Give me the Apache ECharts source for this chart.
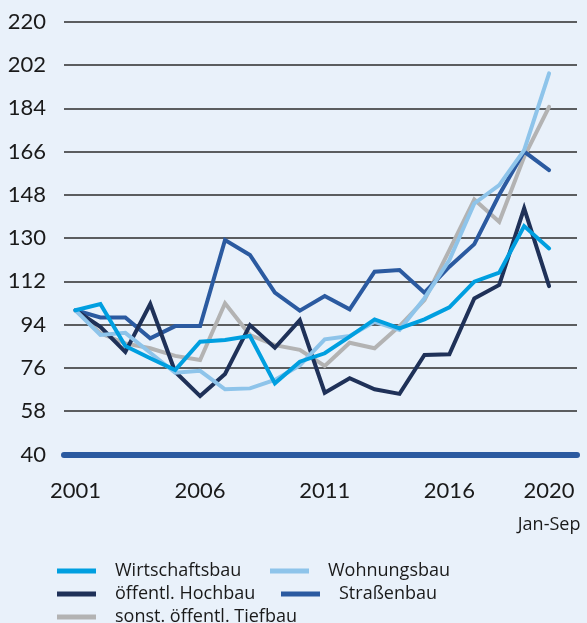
<!DOCTYPE html>
<html>
<head>
<meta charset="utf-8">
<script src="https://cdn.jsdelivr.net/npm/echarts@6/dist/echarts.min.js"></script>
<style>
  html, body { margin: 0; padding: 0; background: #e9f1fa; }
  .chart { width: 587px; height: 623px; }
</style>
</head>
<body>
<div class="chart"></div>
<script>
// Daten (Index 2001 = 100)
var years = [2001, 2002, 2003, 2004, 2005, 2006, 2007, 2008, 2009, 2010,
             2011, 2012, 2013, 2014, 2015, 2016, 2017, 2018, 2019, 2020];
var yearLabels = [2001, 2006, 2011, 2016, 2020];
var wirtschaftsbau = [100, 102.6, 85.1, 80, 75.1, 86.9, 87.6, 89.3, 69.6, 78.6,
                      82.1, 89, 96.2, 92.5, 96.2, 101.2, 111.9, 115.6, 135, 125.7];
var wohnungsbau = [100, 89.7, 90.6, 82.3, 74, 74.8, 67.1, 67.5, 71, 77.1,
                   87.9, 89.3, 95.2, 91.8, 105, 120.9, 144.4, 152, 166.6, 198.5];
var hochbau = [100, 93.1, 82.7, 102.6, 74.4, 64.3, 73.5, 93.8, 84.4, 95.9,
               65.7, 71.7, 67.1, 65.2, 81.4, 81.7, 104.9, 110.5, 142.4, 110];
var strassenbau = [100, 97, 97, 88.3, 93.4, 93.4, 129.2, 123, 107.3, 99.8,
                   105.9, 100.4, 116, 116.7, 107.3, 118.1, 127.5, 148, 166, 158.3];
var tiefbau = [100, 90.4, 86.2, 84.2, 81, 79.3, 102.9, 89.7, 85.5, 83.5,
               76.8, 86.5, 84.2, 93.4, 104.2, 125, 146.1, 136.8, 163.8, 184.6];

var names = ["Wirtschaftsbau", "Wohnungsbau", "öffentl. Hochbau", "Straßenbau", "sonst. öffentl. Tiefbau"];

function pairs(values) {
    return years.map(function (y, i) { return [y, values[i]]; });
}

function makeSeries(name, values, color) {
    return {
        name: name,
        type: "line",
        data: pairs(values),
        symbol: "none",
        color: color,
        lineStyle: { width: 4, color: color, cap: "round", join: "miter" },
        silent: true
    };
}

var myChart = echarts.init(document.querySelector(".chart"));
var fontFamily = "Lato";
var smallFont = "Open Sans";

// Legende: fließendes Layout wie im Original, ein Block pro Eintrag
function makeLegend(name, left, top) {
    return {
        data: [name],
        left: left,
        top: top,
        padding: 0,
        icon: "rect",
        itemWidth: 39,
        itemHeight: 5,
        selectedMode: false,
        textStyle: {
            fontFamily: smallFont,
            fontSize: 18,
            color: "#1a1a1a",
            padding: [0, 0, 0, 14]
        }
    };
}

var option = {
    backgroundColor: "#e9f1fa",
    animation: false,
    textStyle: { fontFamily: fontFamily },
    grid: { left: 64, right: 10, top: 21.7, bottom: 168.5 },
    legend: [
        makeLegend(names[0], 57, 562),
        makeLegend(names[1], 270, 562),
        makeLegend(names[2], 57, 585),
        makeLegend(names[3], 281, 585),
        makeLegend(names[4], 57, 608)
    ],
    xAxis: {
        type: "value",
        min: 2000.54,
        max: 2021.12,
        axisLine: { show: true, lineStyle: { color: "#2b5aa0", width: 6 } },
        axisTick: { show: false },
        splitLine: { show: false },
        axisLabel: {
            customValues: yearLabels,
            margin: 24,
            formatter: function (v) {
                if (v === 2020) return "{a|2020}\n{b|Jan-Sep}";
                return "{a|" + v + "}";
            },
            rich: {
                a: { fontFamily: fontFamily, fontSize: 22, lineHeight: 24, color: "#1a1a1a" },
                b: { fontFamily: smallFont, fontSize: 18, lineHeight: 44, color: "#1a1a1a" }
            }
        }
    },
    yAxis: {
        type: "value",
        min: 40,
        max: 220,
        interval: 18,
        axisLine: { show: false },
        axisTick: { show: false },
        splitLine: { lineStyle: { color: "#2b2b2b", width: 1.6 } },
        axisLabel: {
            margin: 18,
            fontFamily: fontFamily,
            fontSize: 22,
            color: "#1a1a1a"
        }
    },
    series: [
        makeSeries(names[4], tiefbau, "#b3b3b3"),
        makeSeries(names[3], strassenbau, "#2b5aa0"),
        makeSeries(names[2], hochbau, "#1f3158"),
        makeSeries(names[1], wohnungsbau, "#8ec4ea"),
        makeSeries(names[0], wirtschaftsbau, "#009fe0")
    ]
};

myChart.setOption(option);
</script>
</body>
</html>
